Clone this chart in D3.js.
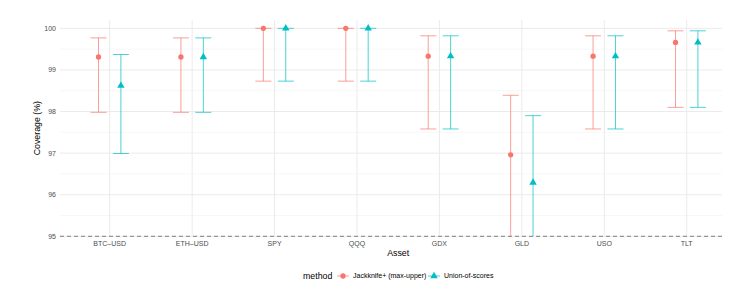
<!DOCTYPE html>
<meta charset="utf-8">
<style>
body { margin: 0; background: #fff; }
text { font-family: "Liberation Sans", Arial, sans-serif; }
</style>
<body>
<script src="https://cdn.jsdelivr.net/npm/d3@7"></script>
<script>

// data
var assets = ["BTC–USD", "ETH–USD", "SPY", "QQQ", "GDX", "GLD", "USO", "TLT"];
var methods = ["Jackknife+ (max-upper)", "Union-of-scores"];

var jackPoint = [99.31, 99.31, 100.0, 100.0, 99.33, 96.96, 99.33, 99.66];
var jackLower = [97.98, 97.98, 98.73, 98.73, 97.58, 94.0, 97.58, 98.10];
var jackUpper = [99.77, 99.77, 100.0, 100.0, 99.82, 98.39, 99.82, 99.94];

var unionPoint = [98.62, 99.31, 100.0, 100.0, 99.33, 96.29, 99.33, 99.66];
var unionLower = [96.99, 97.98, 98.73, 98.73, 97.58, 94.0, 97.58, 98.10];
var unionUpper = [99.37, 99.77, 100.0, 100.0, 99.82, 97.90, 99.82, 99.94];

var yTicks = [95, 96, 97, 98, 99, 100];
var target = 95;

var width = 748, height = 291;
var margin = {top: 20, right: 26, bottom: 55, left: 60};

var colors = d3.scaleOrdinal().domain(methods).range(["#F8766D", "#00BFC4"]);

var rows = [];
assets.forEach(function(a, i) {
  rows.push({asset: a, method: methods[0], p: jackPoint[i], lo: jackLower[i], hi: jackUpper[i]});
  rows.push({asset: a, method: methods[1], p: unionPoint[i], lo: unionLower[i], hi: unionUpper[i]});
});

var svg = d3.select("body").append("svg")
    .attr("width", width)
    .attr("height", height);

var x = d3.scalePoint()
    .domain(assets)
    .range([109.7, 686.7]);

var dodge = d3.scalePoint()
    .domain(methods)
    .range([-11.2, 11.2]);

var y = d3.scaleLinear()
    .domain([95, 100.2])
    .range([height - margin.bottom + 0.3, margin.top]);

svg.append("defs").append("clipPath").attr("id", "panel")
  .append("rect")
    .attr("x", margin.left)
    .attr("y", margin.top)
    .attr("width", width - margin.left - margin.right)
    .attr("height", y(95) - margin.top);

// grid
var grid = svg.append("g");
d3.range(95.5, 100.2, 1).forEach(function(v) {
  grid.append("line")
      .attr("x1", margin.left).attr("x2", width - margin.right)
      .attr("y1", y(v)).attr("y2", y(v))
      .attr("stroke", "#f2f2f2").attr("stroke-width", 0.6);
});
yTicks.forEach(function(v) {
  grid.append("line")
      .attr("x1", margin.left).attr("x2", width - margin.right)
      .attr("y1", y(v)).attr("y2", y(v))
      .attr("stroke", "#ebebeb").attr("stroke-width", 1);
});
assets.forEach(function(a) {
  grid.append("line")
      .attr("x1", x(a)).attr("x2", x(a))
      .attr("y1", margin.top).attr("y2", y(95))
      .attr("stroke", "#ebebeb").attr("stroke-width", 1);
});

// dashed reference
svg.append("line")
    .attr("x1", margin.left).attr("x2", width - margin.right)
    .attr("y1", y(target)).attr("y2", y(target))
    .attr("stroke", "#666").attr("stroke-width", 0.8)
    .attr("stroke-dasharray", "4,3");

// error bars
var bars = svg.append("g").attr("clip-path", "url(#panel)")
  .selectAll("g").data(rows).enter().append("g")
    .attr("transform", function(d) { return "translate(" + (x(d.asset) + dodge(d.method)) + ",0)"; })
    .attr("stroke", function(d) { return colors(d.method); })
    .attr("stroke-opacity", 0.7)
    .attr("stroke-width", 1);

bars.append("line")
    .attr("y1", function(d) { return y(d.lo); })
    .attr("y2", function(d) { return y(d.hi); });
bars.append("line")
    .attr("x1", -8).attr("x2", 8)
    .attr("y1", function(d) { return y(d.lo); })
    .attr("y2", function(d) { return y(d.lo); });
bars.append("line")
    .attr("x1", -8).attr("x2", 8)
    .attr("y1", function(d) { return y(d.hi); })
    .attr("y2", function(d) { return y(d.hi); });

// points
var circle = d3.symbol().type(d3.symbolCircle).size(22);
var triangle = d3.symbol().type(d3.symbolTriangle).size(24);
svg.append("g").selectAll("path").data(rows).enter().append("path")
    .attr("transform", function(d) { return "translate(" + (x(d.asset) + dodge(d.method)) + "," + y(d.p) + ")"; })
    .attr("d", function(d) { return d.method === methods[0] ? circle() : triangle(); })
    .attr("fill", function(d) { return colors(d.method); });

// axes text
svg.append("g").selectAll("text").data(yTicks).enter().append("text")
    .attr("x", margin.left - 4)
    .attr("y", function(d) { return y(d); })
    .attr("dy", "0.35em")
    .attr("text-anchor", "end")
    .attr("font-size", 7)
    .attr("fill", "#4d4d4d")
    .text(function(d) { return d; });

svg.append("g").selectAll("text").data(assets).enter().append("text")
    .attr("x", function(d) { return x(d); })
    .attr("y", y(95) + 10)
    .attr("text-anchor", "middle")
    .attr("font-size", 7)
    .attr("fill", "#4d4d4d")
    .text(function(d) { return d; });

svg.append("text")
    .attr("x", (x(assets[0]) + x(assets[assets.length - 1])) / 2)
    .attr("y", y(95) + 20)
    .attr("text-anchor", "middle")
    .attr("font-size", 8.8)
    .attr("fill", "#000")
    .text("Asset");

svg.append("text")
    .attr("transform", "translate(40," + ((margin.top + y(95)) / 2) + ") rotate(-90)")
    .attr("text-anchor", "middle")
    .attr("font-size", 8.8)
    .attr("fill", "#000")
    .text("Coverage (%)");

// legend
var ly = 276;
svg.append("text")
    .attr("x", 303).attr("y", ly).attr("dy", "0.35em")
    .attr("font-size", 8.8).attr("fill", "#000")
    .text("method");

var legendX = [343, 434];
methods.forEach(function(m, i) {
  var g = svg.append("g").attr("transform", "translate(" + legendX[i] + "," + ly + ")");
  g.append("line").attr("x1", -6).attr("x2", 6)
      .attr("stroke", colors(m)).attr("stroke-opacity", 0.7).attr("stroke-width", 1);
  g.append("path").attr("d", i === 0 ? circle() : triangle()).attr("fill", colors(m));
  g.append("text").attr("x", 10).attr("dy", "0.35em")
      .attr("font-size", 7).attr("fill", "#000")
      .text(m);
});
</script>
</body>
